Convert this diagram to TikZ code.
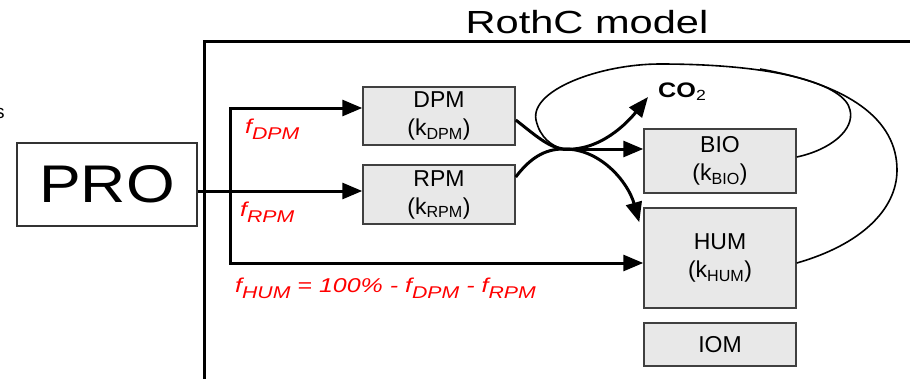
\documentclass[tikz,border=0pt]{standalone}
\usepackage{fontspec}
\setmainfont{Liberation Sans}
\usetikzlibrary{arrows.meta}
\tikzset{
    pool/.style={draw=black!75, line width=1.5pt, fill=black!9, minimum width=152pt,
        align=center, inner sep=0pt, font=\fontsize{23}{28}\selectfont},
    flow/.style={line width=3pt, -{Triangle[length=20pt,width=16pt]}},
    recycle/.style={line width=1.6pt},
    fraction/.style={text=red, anchor=base west, inner sep=0pt,
        font=\fontsize{20}{24}\selectfont\itshape}
}
\newcommand{\lowsub}[1]{\raisebox{-6pt}{\scalebox{0.85}{#1}}}

\begin{document}
\begin{tikzpicture}[x=1pt,y=-1pt]
    \useasboundingbox (0,0) rectangle (910,378);

    % model frame
    \draw[line width=3pt] (204.5,395) |- (930,41.5);
    \node[anchor=base, font=\fontsize{32}{36}\selectfont] (TITLE) at (587,33) {\scalebox{1.3}[1]{RothC model}};
    \node[anchor=base west, inner sep=0pt, font=\fontsize{19}{22}\selectfont] (CUT) at (-5,118) {s};

    \node[draw=black!80, line width=1.2pt, fill=white, minimum width=180pt, minimum height=83pt,
        font=\fontsize{53}{60}\selectfont] (PRO) at (107,184.5) {\scalebox{1.18}[1]{PRO}};

    % pools
    \node[pool, minimum height=58pt] (DPM) at (439,116) {DPM\\(k\textsubscript{DPM})};
    \node[pool, minimum height=59pt] (RPM) at (439,194.5) {RPM\\(k\textsubscript{RPM})};
    \node[pool, minimum height=64pt] (BIO) at (720,161) {BIO\\(k\textsubscript{BIO})};
    \node[pool, minimum height=100pt] (HUM) at (720,258) {HUM\\(k\textsubscript{HUM})};
    \node[pool, minimum height=43pt] (IOM) at (720,344.5) {IOM};
    \node[anchor=base west, inner sep=0pt, font=\fontsize{21}{24}\selectfont\bfseries] (CO2) at (658,97)
        {\scalebox{1.2}[1]{CO\textsubscript{\mdseries 2}}};

    % split of the input
    \coordinate (TOP) at (230,108);
    \coordinate (FORK) at (230,191);
    \coordinate (BOT) at (230,263);
    \coordinate (J) at (563,149);

    \draw[line width=3pt] ([yshift=-6.5pt]PRO.east) -- (FORK);
    \draw[flow] (FORK) -- (FORK -| RPM.west);
    \draw[flow] (BOT) -- (TOP) -- (TOP -| DPM.west);
    \draw[flow] (TOP) -- (BOT) -- (BOT -| HUM.west);

    \node[fraction] (FDPM) at (245,133) {\scalebox{1.25}[1]{f\lowsub{DPM}}};
    \node[fraction] (FRPM) at (240,216) {\scalebox{1.25}[1]{f\lowsub{RPM}}};
    \node[fraction] (FHUM) at (235,292) {\scalebox{1.25}[1]{f\lowsub{HUM} = 100\% - f\lowsub{DPM} - f\lowsub{RPM}}};

    % decomposition
    \draw[flow] ([yshift=-4pt]DPM.east) .. controls (535,135) and (548,147) .. (J)
        .. controls (600,152) and (628,122) .. ([xshift=-10pt]CO2.base west);
    \draw[flow] ([yshift=17.5pt]RPM.east) .. controls (530,158) and (545,149) .. (J)
        .. controls (600,148) and (628,182) .. ([shift={(-4pt,-15pt)}]HUM.north west);
    \draw[flow] (J) -- (J -| BIO.west);

    % loops back
    \draw[recycle] ([yshift=4pt]BIO.east) .. controls (830,150) and (855,130) .. (850,110)
        .. controls (845,85) and (780,64) .. (660,64)
        .. controls (600,64) and (530,90) .. (536,120)
        .. controls (540,138) and (552,146) .. (J);
    \draw[recycle] ([yshift=-5pt]HUM.east) .. controls (860,245) and (897,210) .. (897,170)
        .. controls (897,120) and (850,85) .. (760,69);
\end{tikzpicture}
\end{document}
